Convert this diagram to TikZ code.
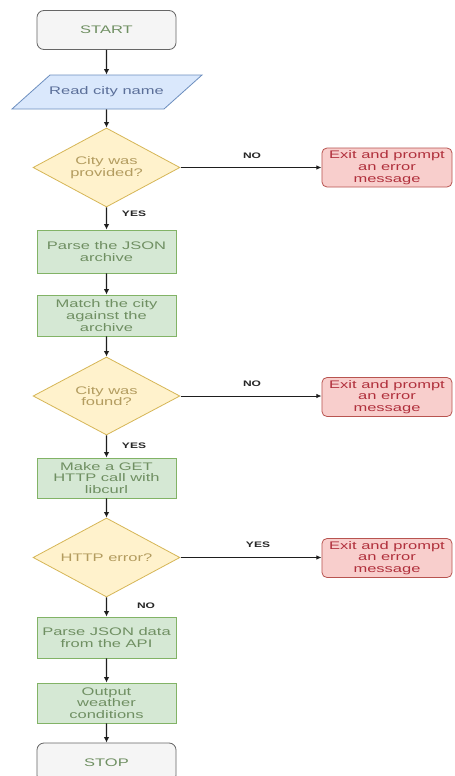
\documentclass[tikz,border=0pt]{standalone}
\usepackage{fontspec}
\setmainfont{Liberation Sans}
\usetikzlibrary{shapes.geometric,arrows.meta}
\definecolor{grayfill}{HTML}{F5F5F5}
\definecolor{grayline}{HTML}{666666}
\definecolor{greentext}{HTML}{6F8F62}
\definecolor{greenfill}{HTML}{D5E8D4}
\definecolor{greenline}{HTML}{82B366}
\definecolor{bluefill}{HTML}{DAE8FC}
\definecolor{blueline}{HTML}{6C8EBF}
\definecolor{bluetext}{HTML}{5B6F99}
\definecolor{yelfill}{HTML}{FFF2CC}
\definecolor{yelline}{HTML}{D6B656}
\definecolor{yeltext}{HTML}{B39C5F}
\definecolor{redfill}{HTML}{F8CECC}
\definecolor{redline}{HTML}{B85450}
\definecolor{redtext}{HTML}{B0303C}
\definecolor{arrowcol}{HTML}{1E1E1E}
\begin{document}
\begin{tikzpicture}[x=0.666667pt,y=-1pt,xscale=1.5,
  every node/.style={transform shape},
  base/.style={font=\fontsize{11}{11.7}\selectfont, align=center, inner sep=0pt, line width=0.8pt},
  termbox/.style={base, rectangle, rounded corners=7pt, draw=grayline, fill=grayfill, text=greentext, minimum width=92.7pt, minimum height=39pt},
  procbox/.style={base, rectangle, draw=greenline, fill=greenfill, text=greentext, minimum width=92.7pt},
  decbox/.style={base, diamond, aspect=1.24, draw=yelline, fill=yelfill, text=yeltext, minimum width=98pt, minimum height=79pt},
  errbox/.style={base, rectangle, rounded corners=5pt, draw=redline, fill=redfill, text=redtext, minimum width=86.7pt, minimum height=39pt},
  lbl/.style={font=\fontsize{8}{9}\selectfont\bfseries, text=black!85, inner sep=0pt},
  flow/.style={draw=arrowcol, line width=1.3pt, -{Latex[length=5.5pt,width=5.5pt]}},
  side/.style={draw=arrowcol, line width=0.8pt, -{Latex[length=5pt,width=4.5pt]}}
]
\useasboundingbox (0,0) rectangle (454,776);
\fill[white] (0,0) rectangle (454,776);

\node[termbox] (start) at (106.5,30) {START};

\draw[line width=0.8pt, draw=blueline, fill=bluefill] (12,109) -- (50,75) -- (202,75) -- (164,109) -- cycle;
\node[base, text=bluetext, minimum width=76pt, minimum height=34pt] (read) at (106.5,92) {Read city name};

\node[decbox] (d1) at (106.5,167.5) {City was\\provided?};
\node[errbox] (e1) at (387,167.5) {Exit and prompt\\an error\\message};

\node[procbox, minimum height=43pt] (p1) at (106.5,251.5) {Parse the JSON\\archive};
\node[procbox, minimum height=41pt] (p2) at (106.5,315.5) {Match the city\\against the\\archive};

\node[decbox, minimum height=78pt] (d2) at (106.5,396) {City was\\found?};
\node[errbox] (e2) at (387,397) {Exit and prompt\\an error\\message};

\node[procbox, minimum height=40pt] (p3) at (106.5,478) {Make a GET\\HTTP call with\\libcurl};

\node[decbox] (d3) at (106.5,557.5) {HTTP error?};
\node[errbox] (e3) at (387,558) {Exit and prompt\\an error\\message};

\node[procbox, minimum height=41pt] (p4) at (106.5,637.5) {Parse JSON data\\from the API};
\node[procbox, minimum height=40pt] (p5) at (106.5,703) {Output\\weather\\conditions};
\node[termbox] (stop) at (106.5,762.5) {STOP};

\draw[flow] (start) -- (read);
\draw[flow] (read) -- (d1);
\draw[flow] (d1) -- (p1);
\draw[flow] (p1) -- (p2);
\draw[flow] (p2) -- (d2);
\draw[flow] (d2) -- (p3);
\draw[flow] (p3) -- (d3);
\draw[flow] (d3) -- (p4);
\draw[flow] (p4) -- (p5);
\draw[flow] (p5) -- (stop);

\draw[side] (d1.east) -- (e1.west |- d1.east);
\draw[side] (d2.east) -- (e2.west |- d2.east);
\draw[side] (d3.east) -- (e3.west |- d3.east);

\node[lbl] (l1) at (252,156) {NO};
\node[lbl] (l2) at (134,214) {YES};
\node[lbl] (l3) at (252,384) {NO};
\node[lbl] (l4) at (134,446) {YES};
\node[lbl] (l5) at (258,545) {YES};
\node[lbl] (l6) at (146,606) {NO};
\end{tikzpicture}
\end{document}
